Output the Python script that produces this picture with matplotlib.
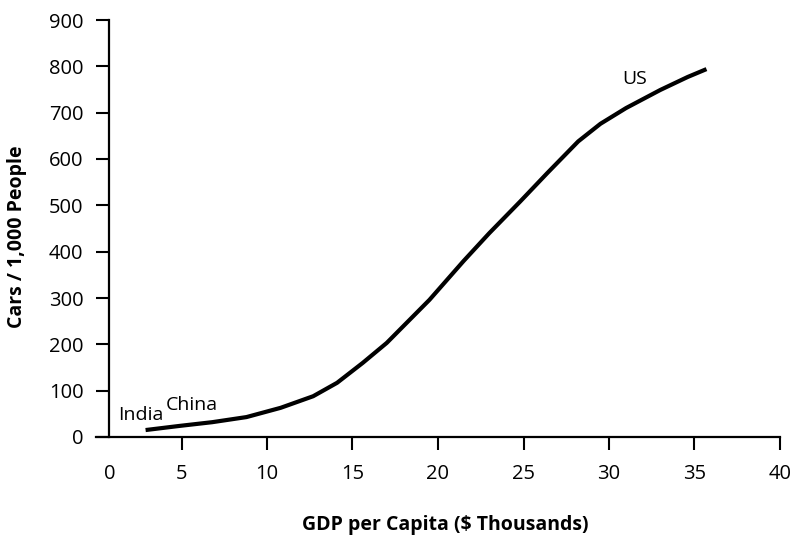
import matplotlib
matplotlib.use("Agg")
import matplotlib.pyplot as plt

# curve (GDP per capita in $k, cars per 1,000 people)
gdp = [2.9, 4.9, 6.8, 8.8, 10.8, 12.7, 14.1, 15.6, 17.0, 19.5, 21.5, 23.0,
       24.8, 26.4, 28.2, 29.5, 31.0, 33.0, 34.6, 35.7]
cars = [15, 24, 32, 43, 63, 88, 117, 160, 203, 296, 380, 440,
        508, 570, 638, 676, 710, 749, 777, 794]

# country labels: name, x, y
countries = ["India", "China", "US"]
country_x = [2.6, 5.6, 31.5]
country_y = [47, 69, 773]

x_ticks = [0, 5, 10, 15, 20, 25, 30, 35, 40]
y_ticks = [0, 100, 200, 300, 400, 500, 600, 700, 800, 900]

plt.rcParams["font.family"] = ["Open Sans", "DejaVu Sans"]

fig = plt.figure(figsize=(7.96, 5.39), dpi=100)
ax = fig.add_axes([96 / 796, 1 - 437 / 539, 684 / 796, 417 / 539])

ax.plot(gdp, cars, color="black", lw=3, solid_capstyle="butt", solid_joinstyle="round")

for name, cx, cy in zip(countries, country_x, country_y):
    ax.text(cx, cy, name, ha="center", va="center", fontsize=14)

ax.set_xlim(0, 40)
ax.set_ylim(0, 900)

# the y axis line sits a little to the right of x=0
ax.spines["left"].set_position(("data", 0.76))
ax.spines["top"].set_visible(False)
ax.spines["right"].set_visible(False)
for s in ("left", "bottom"):
    ax.spines[s].set_linewidth(1.6)

xpos = [0.8] + x_ticks[1:]
ax.set_xticks(xpos, [str(t) for t in x_ticks])
ax.set_yticks(y_ticks, [str(t) for t in y_ticks])
ax.tick_params(axis="both", direction="out", length=9.4, width=1.5, labelsize=14.5)
ax.tick_params(axis="x", pad=10)
ax.tick_params(axis="y", pad=9)
ax.xaxis.get_major_ticks()[0].tick1line.set_visible(False)

ax.set_xlabel("GDP per Capita ($ Thousands)", fontsize=14, fontweight="bold", va="center")
ax.xaxis.set_label_coords(0.51, -0.211)
ax.set_ylabel("Cars / 1,000 People", fontsize=14, fontweight="bold", va="center")
ax.yaxis.set_label_coords(-0.115, 0.48)

fig.savefig("out.png", dpi=100)
